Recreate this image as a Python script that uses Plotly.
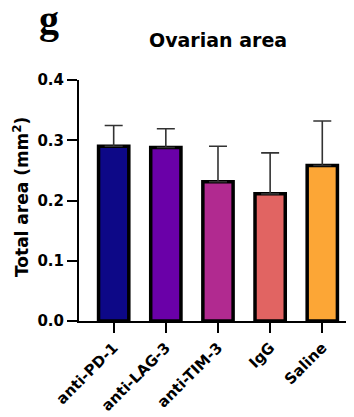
import plotly.graph_objects as go

categories = ["anti-PD-1", "anti-LAG-3", "anti-TIM-3", "IgG", "Saline"]
means = [0.290, 0.288, 0.231, 0.211, 0.258]
errors = [0.0345, 0.031, 0.059, 0.068, 0.074]
colors = ["#0d0887", "#6a00a8", "#b12a90", "#e16462", "#fca636"]
y_ticks = [0.0, 0.1, 0.2, 0.3, 0.4]
y_ticktext = ["0.0", "0.1", "0.2", "0.3", "0.4"]

# page body has an 8px margin, so the figure is drawn 8px right/down
OFF = 8
W, H = 354 - OFF, 417 - OFF
ML, MR, MT, MB = 79 - OFF, 0, 80 - OFF, 96
plot_h = H - MT - MB
plot_w = W - ML - MR

def px_x(x):
    return (x - OFF - ML) / plot_w

def px_y(y):
    return (H - MB - (y - OFF)) / plot_h

FONT = "DejaVu Sans, Arial, sans-serif"

fig = go.Figure()
fig.add_trace(go.Bar(
    x=list(range(len(categories))),
    y=means,
    width=0.58,
    marker=dict(color=colors, line=dict(color="black", width=3.5)),
    error_y=dict(type="data", array=errors, arrayminus=[0]*len(errors), symmetric=False,
                 color="#333333", thickness=1.6, width=9),
    showlegend=False,
))

fig.update_layout(
    width=W, height=H,
    margin=dict(l=ML, r=MR, t=MT, b=MB, pad=0, autoexpand=False),
    plot_bgcolor="white", paper_bgcolor="white",
    font=dict(family=FONT, color="black"),
    xaxis=dict(
        range=[-0.665, 4.608],
        tickvals=list(range(len(categories))),
        ticktext=categories,
        tickangle=-45,
        showline=True, linecolor="black", linewidth=2,
        ticks="outside", ticklen=10, tickwidth=2, tickcolor="black",
        tickfont=dict(size=15, family=FONT, weight="bold", color="black"),
        showgrid=False, zeroline=False,
    ),
    yaxis=dict(
        range=[0, 0.4],
        tickvals=y_ticks,
        ticktext=y_ticktext,
        showline=True, linecolor="black", linewidth=2,
        ticks="outside", ticklen=10, tickwidth=2, tickcolor="black",
        tickfont=dict(size=15, family=FONT, weight="bold", color="black"),
        showgrid=False, zeroline=False,
    ),
    annotations=[
        dict(text="Ovarian area", x=px_x(218), y=px_y(40), xref="paper", yref="paper",
             xanchor="center", yanchor="middle", showarrow=False,
             font=dict(size=19, family=FONT, weight="bold", color="black")),
        dict(text="Total area (mm<sup>2</sup>)", x=px_x(21), y=px_y(197), xref="paper", yref="paper",
             xanchor="center", yanchor="middle", textangle=-90, showarrow=False,
             font=dict(size=17, family=FONT, weight="bold", color="black")),
        dict(text="g", x=px_x(37), y=px_y(19), xref="paper", yref="paper",
             xanchor="left", yanchor="middle", showarrow=False,
             font=dict(size=40, family="Liberation Serif, Times New Roman, serif", weight="bold", color="black")),
    ],
)

fig.write_html("out.html")
